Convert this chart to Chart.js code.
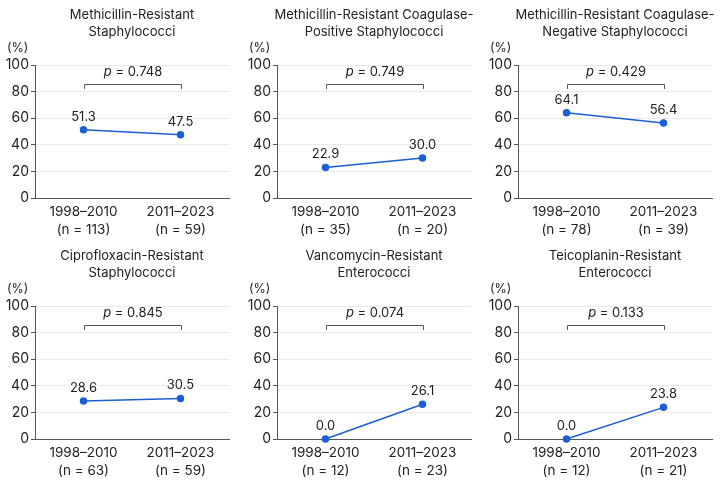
<!DOCTYPE html>
<html>
<head>
<meta charset="utf-8">
<script src="https://cdn.jsdelivr.net/npm/chart.js@4.4.1/dist/chart.umd.min.js"></script>
<style>
  html, body { margin: 0; padding: 0; background: #fff; }
  #wrap { position: relative; width: 720px; height: 482px; }
  #wrap canvas { position: absolute; }
</style>
</head>
<body>
<div id="wrap"></div>
<script>
// Data for the six panels
const titles = [
    ['Methicillin-Resistant', 'Staphylococci'],
    ['Methicillin-Resistant Coagulase-', 'Positive Staphylococci'],
    ['Methicillin-Resistant Coagulase-', 'Negative Staphylococci'],
    ['Ciprofloxacin-Resistant', 'Staphylococci'],
    ['Vancomycin-Resistant', 'Enterococci'],
    ['Teicoplanin-Resistant', 'Enterococci']
];
const periods = ['1998\u20132010', '2011\u20132023'];
const earlyRates = [51.3, 22.9, 64.1, 28.6, 0.0, 0.0];
const lateRates = [47.5, 30.0, 56.4, 30.5, 26.1, 23.8];
const earlyN = [113, 35, 78, 63, 12, 12];
const lateN = [59, 20, 39, 59, 23, 21];
const pValues = ['0.748', '0.749', '0.429', '0.845', '0.074', '0.133'];
const yTicks = [0, 20, 40, 60, 80, 100];

const FONT = 'Inter, "Noto Sans", sans-serif';
const TEXT = '#222';
const BLUE = '#1c5fd4';

const wrap = document.getElementById('wrap');
const panelLeft = [0, 242, 483];
const panelTop = [0, 241];

// Draws title, (%) label, value labels and the p-value bracket
const extras = {
    id: 'extras',
    afterDraw(chart) {
        const { ctx, chartArea, scales } = chart;
        const i = chart.options.plugins.extras.index;
        const x = scales.x, y = scales.y;
        ctx.save();
        ctx.fillStyle = TEXT;
        ctx.font = '13px ' + FONT;
        ctx.textAlign = 'center';
        ctx.textBaseline = 'middle';
        const cx = (chartArea.left + chartArea.right) / 2;
        ctx.fillText(titles[i][0], cx, 15);
        ctx.fillText(titles[i][1], cx, 32);

        ctx.font = '12.5px ' + FONT;
        ctx.textAlign = 'left';
        ctx.fillText('(%)', chartArea.left - 28, 48);

        // value labels
        ctx.font = '13px ' + FONT;
        ctx.textAlign = 'center';
        const vals = [earlyRates[i], lateRates[i]];
        vals.forEach((v, k) => {
            ctx.fillText(v.toFixed(1), x.getPixelForValue(k), y.getPixelForValue(v) - 13);
        });

        // bracket
        const x0 = Math.round(x.getPixelForValue(0)) + 0.5;
        const x1 = Math.round(x.getPixelForValue(1)) + 0.5;
        const yt = Math.round(y.getPixelForValue(86)) + 0.5;
        const yb = y.getPixelForValue(82);
        ctx.strokeStyle = '#555';
        ctx.lineWidth = 1;
        ctx.beginPath();
        ctx.moveTo(x0, yb);
        ctx.lineTo(x0, yt);
        ctx.lineTo(x1, yt);
        ctx.lineTo(x1, yb);
        ctx.stroke();

        // p text with italic p
        const ty = y.getPixelForValue(95);
        const rest = ' = ' + pValues[i];
        ctx.font = 'italic 13px ' + FONT;
        const wp = ctx.measureText('p').width;
        ctx.font = '13px ' + FONT;
        const wr = ctx.measureText(rest).width;
        const mx = (x0 + x1) / 2;
        const start = mx - (wp + wr) / 2;
        ctx.textAlign = 'left';
        ctx.font = 'italic 13px ' + FONT;
        ctx.fillText('p', start, ty);
        ctx.font = '13px ' + FONT;
        ctx.fillText(rest, start + wp, ty);
        ctx.restore();
    }
};

titles.forEach((t, i) => {
    const canvas = document.createElement('canvas');
    canvas.width = 240;
    canvas.height = 241;
    canvas.style.left = panelLeft[i % 3] + 'px';
    canvas.style.top = panelTop[Math.floor(i / 3)] + 'px';
    wrap.appendChild(canvas);

    new Chart(canvas.getContext('2d'), {
        type: 'line',
        data: {
            labels: [
                [periods[0], '(n = ' + earlyN[i] + ')'],
                [periods[1], '(n = ' + lateN[i] + ')']
            ],
            datasets: [{
                data: [earlyRates[i], lateRates[i]],
                borderColor: BLUE,
                backgroundColor: BLUE,
                borderWidth: 1.5,
                pointRadius: 3,
                pointHoverRadius: 3,
                clip: false
            }]
        },
        options: {
            responsive: false,
            animation: false,
            events: [],
            layout: { padding: { top: 65, right: 11, left: 0, bottom: 0 } },
            plugins: {
                legend: { display: false },
                tooltip: { enabled: false },
                extras: { index: i }
            },
            scales: {
                x: {
                    offset: true,
                    grid: { display: false, drawTicks: false },
                    border: { display: true, color: '#555', width: 1 },
                    ticks: {
                        color: TEXT,
                        padding: 5,
                        maxRotation: 0,
                        font: { family: FONT, size: 13.5, lineHeight: 1.33 }
                    },
                    afterFit: s => { s.height = 43; }
                },
                y: {
                    min: 0,
                    max: 100,
                    afterBuildTicks: s => { s.ticks = yTicks.map(v => ({ value: v })); },
                    grid: { color: '#e9e9e9', tickColor: '#555', tickLength: 4 },
                    border: { display: true, color: '#555', width: 1 },
                    ticks: {
                        color: TEXT,
                        padding: 2,
                        font: { family: FONT, size: 14 }
                    },
                    afterFit: s => { s.width = 35; }
                }
            }
        },
        plugins: [extras]
    });
});
</script>
</body>
</html>
